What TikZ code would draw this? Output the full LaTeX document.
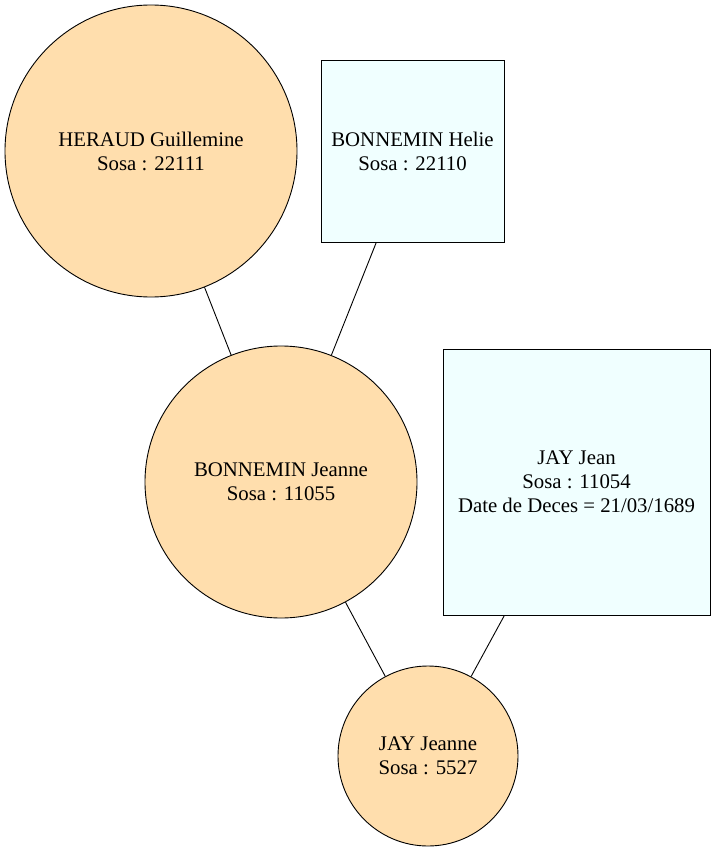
\documentclass[tikz,border=0pt]{standalone}
\usepackage{fontspec}
\setmainfont{Liberation Serif}
\definecolor{female}{HTML}{FFDEAD}
\definecolor{male}{HTML}{F0FFFF}
\begin{document}
\begin{tikzpicture}[x=1pt,y=-1pt,
  person/.style={draw=black, line width=0.9pt, inner sep=0pt, align=center,
    font=\fontsize{20.8}{24}\selectfont},
  womannode/.style={person, circle, fill=female},
  mannode/.style={person, rectangle, fill=male},
  link/.style={draw=black, line width=0.9pt}]
\useasboundingbox (0,0) rectangle (715,851);
% ancestors
\node[womannode, minimum size=292pt] (heraud) at (151,151) {HERAUD Guillemine\\Sosa : 22111};
\node[mannode, minimum width=183pt, minimum height=182pt] (helie) at (412.5,151) {BONNEMIN Helie\\Sosa : 22110};
% parents
\node[womannode, minimum size=272pt] (jeanne) at (281,482) {BONNEMIN Jeanne\\Sosa : 11055};
\node[mannode, minimum width=267pt, minimum height=266pt] (jean) at (576.5,482) {JAY Jean\\Sosa : 11054\\Date de Deces = 21/03/1689};
% child
\node[womannode, minimum size=180pt] (jayjeanne) at (428,756) {JAY Jeanne\\Sosa : 5527};
% lineage links
\draw[link] (heraud) -- (jeanne);
\draw[link] (helie) -- (jeanne);
\draw[link] (jeanne) -- (jayjeanne);
\draw[link] (jean) -- (jayjeanne);
\end{tikzpicture}
\end{document}
